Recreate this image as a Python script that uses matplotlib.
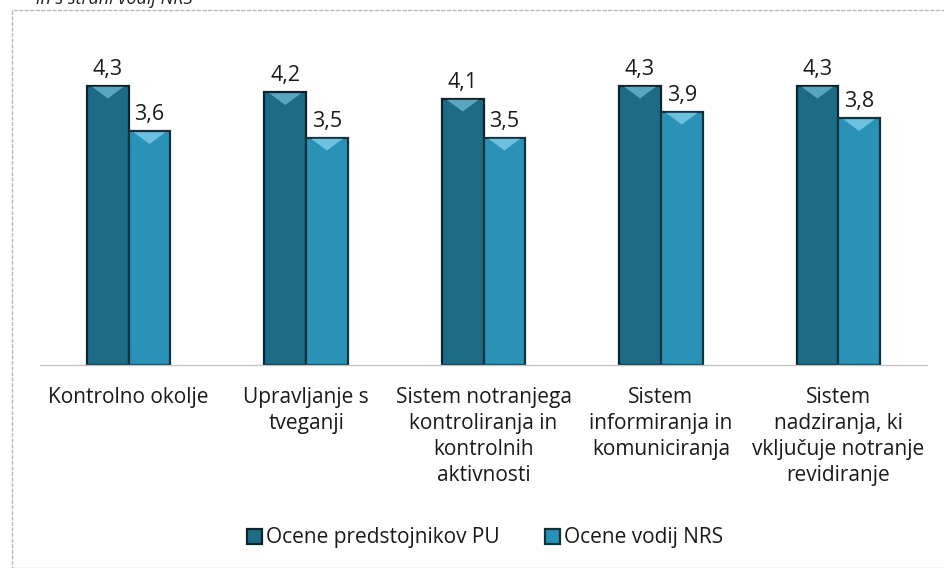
import matplotlib
matplotlib.use("Agg")
import matplotlib.pyplot as plt
from matplotlib.patches import Polygon, Rectangle
import numpy as np

categories = [
    "Kontrolno okolje",
    "Upravljanje s\ntveganji",
    "Sistem notranjega\nkontroliranja in\nkontrolnih\naktivnosti",
    "Sistem\ninformiranja in\nkomuniciranja",
    "Sistem\nnadziranja, ki\nvključuje notranje\nrevidiranje",
]
series_names = ["Ocene predstojnikov PU", "Ocene vodij NRS"]
pu_values = [4.3, 4.2, 4.1, 4.3, 4.3]
nrs_values = [3.6, 3.5, 3.5, 3.9, 3.8]
title_text = "in s strani vodij NRS"

plt.rcParams['font.family'] = ['Open Sans', 'DejaVu Sans']

W, H = 944, 568
fig = plt.figure(figsize=(W / 100, H / 100), dpi=100)
fig.patch.set_facecolor("white")

# outer chart frame
frame = Rectangle((12 / W, 0.0), 1.2, 1 - 10 / H, transform=fig.transFigure,
                  fill=False, edgecolor="#b8b8b8", linewidth=1.0, linestyle=(0, (3, 1)))
fig.patches.append(frame)

# cut-off title at the top
fig.text(36 / W, 1 - 4 / H, title_text, fontsize=13, style="italic",
         ha="left", va="baseline", color="#222222")

left, right = 40 / W, 927 / W
bottom, top = 1 - 365 / H, 1 - 40 / H
ax = fig.add_axes([left, bottom, right - left, top - bottom])
ax.set_xlim(-0.5, len(categories) - 0.5)
ax.set_ylim(0, 5)

colors = ["#1c6c86", "#2a92b6"]
edges = ["#0a2530", "#0c3440"]
bevel = ["#58a6c0", "#6cc2de"]
bw = 0.235
x = np.arange(len(categories))

for i, (vals, off) in enumerate([(pu_values, -bw / 2), (nrs_values, bw / 2)]):
    bars = ax.bar(x + off, vals, width=bw, color=colors[i], edgecolor=edges[i],
                  linewidth=1.6, label=series_names[i], zorder=2)
    for b, v in zip(bars, vals):
        bx, bwid, bh = b.get_x(), b.get_width(), b.get_height()
        tri = Polygon([[bx + bwid * 0.12, bh - 0.02], [bx + bwid * 0.88, bh - 0.02],
                       [bx + bwid * 0.5, bh - 0.2]], closed=True,
                      facecolor=bevel[i], edgecolor="none", zorder=3)
        ax.add_patch(tri)
        ax.annotate(f"{v:.1f}".replace(".", ","), (bx + bwid / 2, bh),
                    xytext=(0, 4), textcoords="offset points",
                    ha="center", va="bottom", fontsize=15.5, color="#1a1a1a")

for s in ["top", "right", "left"]:
    ax.spines[s].set_visible(False)
ax.spines["bottom"].set_color("#c4c4c4")
ax.spines["bottom"].set_linewidth(1.0)
ax.set_yticks([])
ax.set_xticks(x)
ax.set_xticklabels(categories, fontsize=15, color="#1a1a1a", linespacing=1.3)
ax.tick_params(axis="x", length=0, pad=16)

leg = fig.legend(loc="center", bbox_to_anchor=(485 / W, 1 - 538 / H), ncol=2,
                 frameon=False, fontsize=15, handlelength=0.7, handleheight=0.7,
                 handletextpad=0.2, columnspacing=2.2)
for t in leg.get_texts():
    t.set_color("#1a1a1a")

fig.savefig("out.png", dpi=100, facecolor="white")
